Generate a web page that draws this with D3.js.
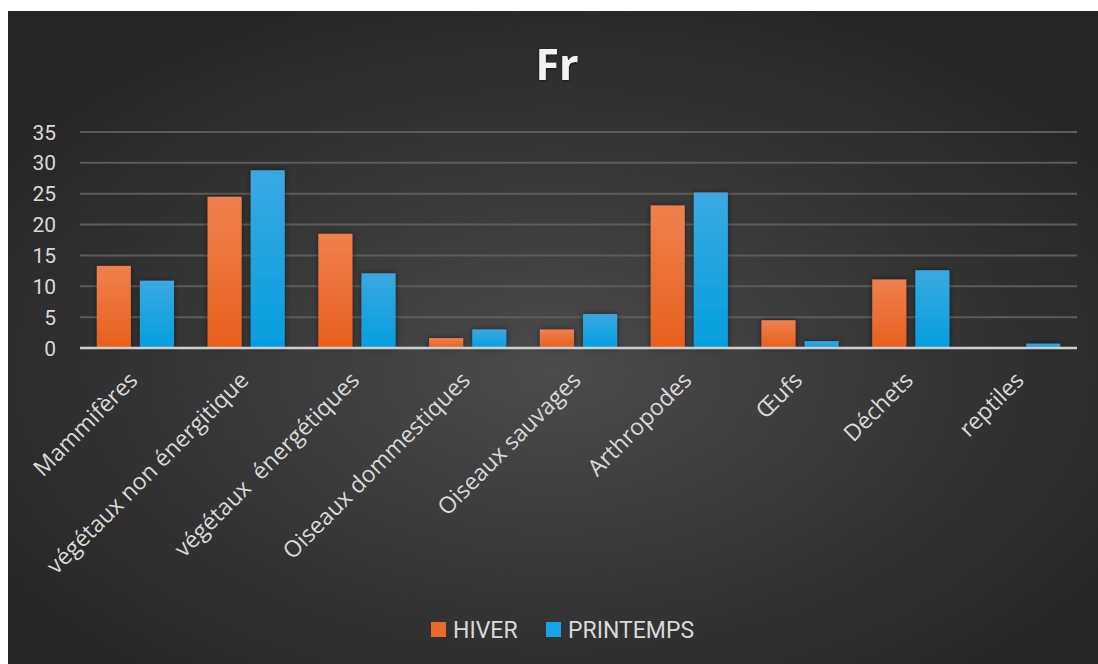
<!DOCTYPE html>
<html><head><meta charset="utf-8">
<script src="https://cdn.jsdelivr.net/npm/d3@7"></script>
<style>html,body{margin:0;padding:0;background:#fff}svg{display:block}</style>
</head><body>
<svg id="c" width="1098" height="664"></svg>
<script>
const categories = ["Mammifères","végétaux non énergitique","végétaux  énergétiques","Oiseaux dommestiques","Oiseaux sauvages","Arthropodes","Œufs","Déchets","reptiles"];
const hiver = [13.3, 24.5, 18.5, 1.6, 3.0, 23.1, 4.5, 11.1, 0];
const printemps = [10.9, 28.8, 12.1, 3.0, 5.5, 25.2, 1.1, 12.6, 0.7];
const seriesNames = ["HIVER","PRINTEMPS"];
const yTicks = [0,5,10,15,20,25,30,35];

const svg = d3.select("#c");
const W = 1098, H = 664;
const defs = svg.append("defs");
const bg = defs.append("radialGradient").attr("id","bg").attr("cx","50%").attr("cy","55%").attr("r","60%");
bg.append("stop").attr("offset","0%").attr("stop-color","#4b4b4b");
bg.append("stop").attr("offset","100%").attr("stop-color","#262626");
const go = defs.append("linearGradient").attr("id","go").attr("x1",0).attr("y1",0).attr("x2",0).attr("y2",1);
go.append("stop").attr("offset","0%").attr("stop-color","#f0804e");
go.append("stop").attr("offset","100%").attr("stop-color","#e85f1c");
const gb = defs.append("linearGradient").attr("id","gb").attr("x1",0).attr("y1",0).attr("x2",0).attr("y2",1);
gb.append("stop").attr("offset","0%").attr("stop-color","#3aa8e2");
gb.append("stop").attr("offset","100%").attr("stop-color","#049fdf");
const sh = defs.append("filter").attr("id","sh").attr("x","-30%").attr("y","-10%").attr("width","160%").attr("height","130%");
sh.append("feDropShadow").attr("dx",0).attr("dy",0).attr("stdDeviation",3).attr("flood-color","#000").attr("flood-opacity",0.5);
const tsh = defs.append("filter").attr("id","tsh");
tsh.append("feDropShadow").attr("dx",0).attr("dy",1).attr("stdDeviation",1.5).attr("flood-color","#000").attr("flood-opacity",0.6);

svg.append("rect").attr("x",8).attr("y",11).attr("width",W-8).attr("height",H-11).attr("fill","url(#bg)");

const x0 = d3.scaleBand().domain(categories).range([80,1077]).padding(0);
const x1 = d3.scaleBand().domain(seriesNames).range([0,x0.bandwidth()]).paddingInner(0.21).paddingOuter(0.39);
const y = d3.scaleLinear().domain([0,35]).range([348,132]);

// grid
svg.append("g").selectAll("line").data(yTicks.filter(d=>d>0)).join("line")
  .attr("x1",80).attr("x2",1077).attr("y1",d=>y(d)).attr("y2",d=>y(d))
  .attr("stroke","#5c5c5c").attr("stroke-width",2);

// y labels
svg.append("g").selectAll("text").data(yTicks).join("text")
  .attr("x",56).attr("y",d=>y(d)).attr("dy","0.36em").attr("text-anchor","end")
  .attr("font-family","Roboto, 'Liberation Sans', sans-serif").attr("font-size",21)
  .attr("fill","#d9d9d9").text(d=>d);

const colors = {HIVER:"url(#go)", PRINTEMPS:"url(#gb)"};
const data = [hiver, printemps];
const g = svg.append("g").attr("filter","url(#sh)");
seriesNames.forEach((s,si)=>{
  g.selectAll(null).data(categories).join("rect")
   .attr("x",c=>x0(c)+x1(s)).attr("width",x1.bandwidth())
   .attr("y",(c,i)=>y(data[si][i])).attr("height",(c,i)=>y(0)-y(data[si][i]))
   .attr("fill",colors[s]);
});

// axis line
svg.append("line").attr("x1",80).attr("x2",1077).attr("y1",y(0)).attr("y2",y(0))
  .attr("stroke","#cfcfcf").attr("stroke-width",2.5);

// category labels
svg.append("g").selectAll("text").data(categories).join("text")
  .attr("transform",c=>`translate(${x0(c)+x0.bandwidth()/2-2},${376}) rotate(-45)`)
  .attr("text-anchor","end").attr("dy","0.35em")
  .attr("font-family","'Open Sans', 'Noto Sans', sans-serif").attr("font-size",23)
  .attr("fill","#d9d9d9").style("white-space","pre").text(c=>c);

// title
svg.append("text").attr("x",557).attr("y",80).attr("text-anchor","middle")
  .attr("font-family","'Open Sans', 'DejaVu Sans', sans-serif").attr("font-weight",700)
  .attr("font-size",43).attr("fill","#f2f2f2").attr("filter","url(#tsh)").text("Fr");

// legend
const leg = [{n:"HIVER",c:"#ee6a2c",x:431},{n:"PRINTEMPS",c:"#14a5e6",x:546}];
const lg = svg.append("g");
lg.selectAll("rect").data(leg).join("rect").attr("x",d=>d.x).attr("y",622).attr("width",15).attr("height",15).attr("fill",d=>d.c);
lg.selectAll("text").data(leg).join("text").attr("x",d=>d.x+22).attr("y",630).attr("dy","0.36em")
  .attr("font-family","Roboto, 'Liberation Sans', sans-serif").attr("font-size",23).attr("fill","#d9d9d9").text(d=>d.n);
</script>
</body></html>
